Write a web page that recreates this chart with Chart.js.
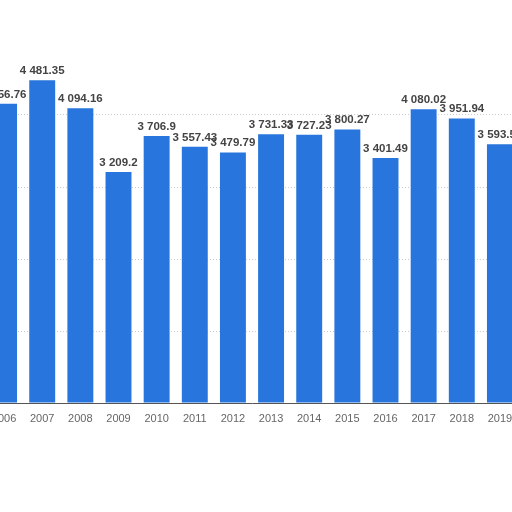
<!DOCTYPE html>
<html lang="en">
  <head>
    <meta charset="UTF-8" />
    <script src="https://cdn.jsdelivr.net/npm/chart.js@4.4.0/dist/chart.umd.min.js"></script>
    <title>bars</title>
    <style>
      body {
        margin: 0;
        padding: 0;
        background: #fff;
        overflow: hidden;
      }
      .container {
        position: absolute;
        left: -15px;
        top: 0;
        width: 534px;
        height: 512px;
      }
    </style>
  </head>
  <body>
    <div class="container">
      <canvas id="chart" width="534" height="512" style="width:534px;height:512px"></canvas>
    </div>
    <script>
      const years = ['2006', '2007', '2008', '2009', '2010', '2011', '2012', '2013', '2014', '2015', '2016', '2017', '2018', '2019']
      const values = [4156.76, 4481.35, 4094.16, 3209.2, 3706.9, 3557.43, 3479.79, 3731.33, 3727.23, 3800.27, 3401.49, 4080.02, 3951.94, 3593.52]
      const yTicks = [0, 1000, 2000, 3000, 4000, 5000]

      const format = (num) => {
        const [whole, fraction] = String(num).split('.')
        const spaced = whole.replace(/\B(?=(\d{3})+(?!\d))/g, ' ')
        return fraction !== undefined ? spaced + '.' + fraction : spaced
      }

      // values above each bar
      const barLabels = {
        id: 'barLabels',
        afterDatasetsDraw(chart) {
          const ctx = chart.ctx
          const meta = chart.getDatasetMeta(0)
          ctx.save()
          ctx.font = 'bold 11.5px "Liberation Sans", Arial, sans-serif'
          ctx.fillStyle = '#444444'
          ctx.textAlign = 'center'
          ctx.textBaseline = 'alphabetic'
          meta.data.forEach((bar, i) => {
            ctx.fillText(format(values[i]), bar.x, bar.y - 6)
          })
          ctx.restore()
        },
      }

      new Chart(document.getElementById('chart'), {
        type: 'bar',
        data: {
          labels: years,
          datasets: [
            {
              data: values,
              backgroundColor: '#2876dd',
              borderWidth: 0,
              barPercentage: 0.68,
              categoryPercentage: 1,
            },
          ],
        },
        options: {
          responsive: false,
          animation: false,
          layout: { padding: { top: 43, bottom: 79, left: 0, right: 0 } },
          plugins: {
            legend: { display: false },
            tooltip: { enabled: false },
          },
          scales: {
            x: {
              grid: { display: false },
              border: { display: true, color: '#555555', width: 1 },
              ticks: {
                color: '#666666',
                font: { family: '"Liberation Sans", Arial, sans-serif', size: 11 },
                padding: 1,
                maxRotation: 0,
                autoSkip: false,
              },
              afterFit: (s) => {
                s.height = 30
              },
            },
            y: {
              min: yTicks[0],
              max: yTicks[yTicks.length - 1],
              afterBuildTicks: (s) => {
                s.ticks = yTicks.map((v) => ({ value: v }))
              },
              ticks: { display: false },
              border: { display: false, dash: [1, 2] },
              grid: {
                drawTicks: false,
                color: (c) => (c.tick && c.tick.value > 0 && c.tick.value < 5000 ? '#cccccc' : 'rgba(0,0,0,0)'),
              },
              afterFit: (s) => {
                s.width = 0
              },
            },
          },
        },
        plugins: [barLabels],
      })
    </script>
  </body>
</html>
